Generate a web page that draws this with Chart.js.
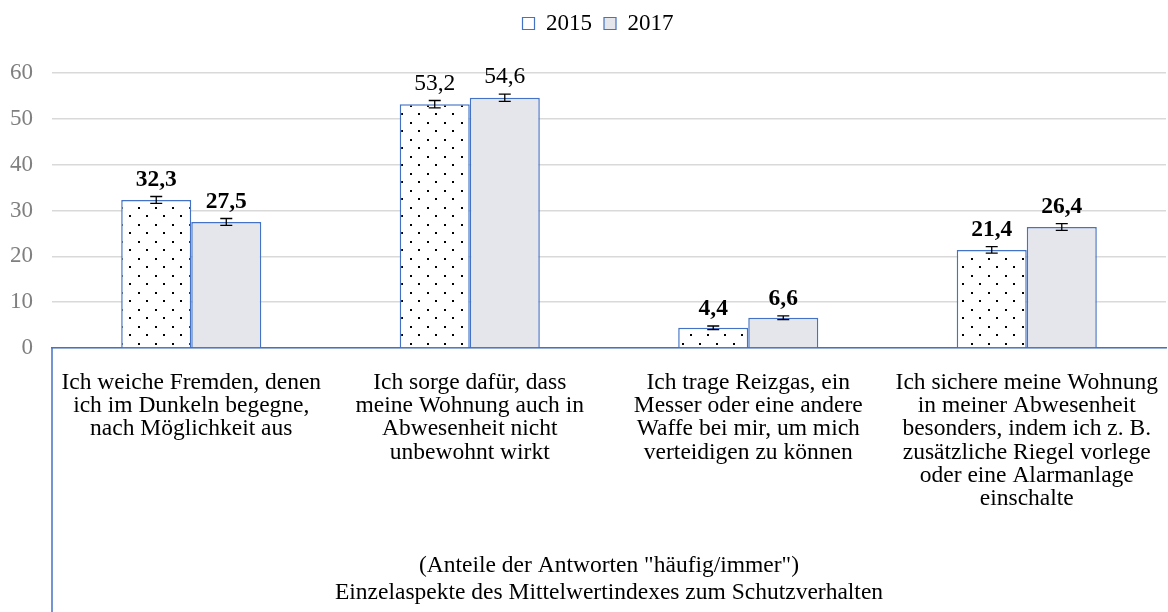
<!DOCTYPE html>
<html>
<head>
<meta charset="utf-8">
<script src="https://cdn.jsdelivr.net/npm/chart.js@4"></script>
<style>
  html, body { margin: 0; padding: 0; background: #fff; }
  #wrap { width: 1168px; height: 612px; }
</style>
</head>
<body>
<div id="wrap"><canvas id="chart"></canvas></div>
<script>
const categories = [
  ["Ich weiche Fremden, denen", "ich im Dunkeln begegne,", "nach Möglichkeit aus"],
  ["Ich sorge dafür, dass", "meine Wohnung auch in", "Abwesenheit nicht", "unbewohnt wirkt"],
  ["Ich trage Reizgas, ein", "Messer oder eine andere", "Waffe bei mir, um mich", "verteidigen zu können"],
  ["Ich sichere meine Wohnung", "in meiner Abwesenheit", "besonders, indem ich z. B.", "zusätzliche Riegel vorlege", "oder eine Alarmanlage", "einschalte"]
];
const values2015 = [32.3, 53.2, 4.4, 21.4];
const values2017 = [27.5, 54.6, 6.6, 26.4];
const errors2015 = [0.75, 0.8, 0.4, 0.7];
const errors2017 = [0.75, 0.8, 0.4, 0.75];
const boldLabels = [true, false, true, true];
const yTicks = [0, 10, 20, 30, 40, 50, 60];
const axisTitle = ["(Anteile der Antworten \"häufig/immer\")", "Einzelaspekte des Mittelwertindexes zum Schutzverhalten"];

const FONT = "'Liberation Serif', 'Times New Roman', serif";
const BLUE = "#4472c4";

function dotPattern() {
  const c = document.createElement("canvas");
  c.width = 17; c.height = 17;
  const g = c.getContext("2d");
  g.fillStyle = "#fff";
  g.fillRect(0, 0, 17, 17);
  g.fillStyle = "#000";
  g.fillRect(2, 3, 2, 2);
  g.fillRect(10, 11, 2, 2);
  return g.createPattern(c, "repeat");
}

// legend takes the whole band above the plot and sits a bit right of centre
const legendBand = {
  id: "legendBand",
  beforeLayout(chart) {
    const lg = chart.legend;
    if (lg && !lg._banded) {
      const fit = lg.fit.bind(lg);
      lg.fit = function () { fit(); this.height = 73; };
      lg._banded = true;
    }
  },
  afterLayout(chart) {
    chart.legend.left += 15;
    chart.legend.right += 15;
  }
};

const errorBars = {
  id: "errorBars",
  afterDatasetsDraw(chart) {
    const ctx = chart.ctx;
    const y = chart.scales.y;
    const errs = [errors2015, errors2017];
    ctx.save();
    chart.data.datasets.forEach((ds, di) => {
      chart.getDatasetMeta(di).data.forEach((bar, i) => {
        const v = ds.data[i];
        const top = y.getPixelForValue(v + errs[di][i]);
        const bot = y.getPixelForValue(v - errs[di][i]);
        ctx.strokeStyle = "#000";
        ctx.lineWidth = 1.3;
        ctx.beginPath();
        ctx.moveTo(bar.x, top); ctx.lineTo(bar.x, bot);
        ctx.moveTo(bar.x - 6, top); ctx.lineTo(bar.x + 6, top);
        ctx.moveTo(bar.x - 6, bot); ctx.lineTo(bar.x + 6, bot);
        ctx.stroke();
        ctx.fillStyle = "#000";
        ctx.font = (boldLabels[i] ? "bold " : "") + "23.5px " + FONT;
        ctx.textAlign = "center";
        ctx.textBaseline = "alphabetic";
        ctx.fillText(v.toFixed(1).replace(".", ","), bar.x, top - 11);
      });
    });
    // left border of the category area
    const a = chart.chartArea;
    ctx.strokeStyle = BLUE;
    ctx.lineWidth = 1.5;
    ctx.beginPath();
    ctx.moveTo(a.left, a.bottom);
    ctx.lineTo(a.left, chart.height);
    ctx.stroke();
    ctx.restore();
  }
};

new Chart(document.getElementById("chart"), {
  type: "bar",
  data: {
    labels: categories,
    datasets: [
      {
        label: "2015",
        data: values2015,
        backgroundColor: dotPattern(),
        borderColor: BLUE,
        borderWidth: 1.5
      },
      {
        label: "2017",
        data: values2017,
        backgroundColor: "#e4e6ec",
        borderColor: BLUE,
        borderWidth: 1.5
      }
    ]
  },
  options: {
    responsive: true,
    maintainAspectRatio: false,
    animation: false,
    layout: { padding: { top: 0, right: 2, left: 0, bottom: 0 } },
    datasets: {
      bar: { categoryPercentage: 0.503, barPercentage: 1.0 }
    },
    plugins: {
      tooltip: { enabled: false },
      legend: {
        position: "top",
        labels: {
          font: { family: FONT, size: 23 },
          color: "#000",
          boxWidth: 12,
          boxHeight: 12,
          padding: 12,
          generateLabels(chart) {
            return chart.data.datasets.map((ds, i) => ({
              text: ds.label,
              fillStyle: i === 0 ? "#fff" : ds.backgroundColor,
              strokeStyle: BLUE,
              lineWidth: 1.2,
              datasetIndex: i
            }));
          }
        }
      }
    },
    scales: {
      x: {
        grid: { display: false },
        border: { color: BLUE, width: 1.5 },
        ticks: {
          autoSkip: false,
          maxRotation: 0,
          minRotation: 0,
          color: "#000",
          padding: 15,
          font: { family: FONT, size: 23.5, lineHeight: 0.99 }
        },
        title: {
          display: true,
          text: axisTitle,
          color: "#000",
          font: { family: FONT, size: 23.5, lineHeight: 1.17 },
          padding: { top: 0, bottom: 5 }
        },
        afterFit(scale) {
          scale.height = 264;
          scale.paddingLeft = 0;
          scale.paddingRight = 0;
        }
      },
      y: {
        min: 0,
        max: 60,
        afterBuildTicks(scale) { scale.ticks = yTicks.map(v => ({ value: v })); },
        grid: { color: "#d9d9d9", lineWidth: 1.5, drawTicks: false },
        border: { display: false },
        ticks: {
          color: "#7f7f7f",
          padding: 19,
          font: { family: FONT, size: 23 }
        },
        afterFit(scale) { scale.width = 52; }
      }
    }
  },
  plugins: [legendBand, errorBars]
});
</script>
</body>
</html>
